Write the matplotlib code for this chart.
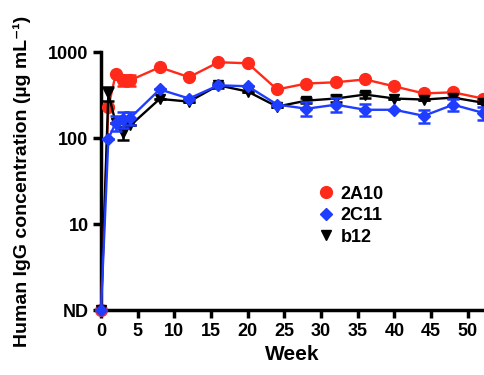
import matplotlib
matplotlib.use("Agg")
import matplotlib.pyplot as plt
from matplotlib.lines import Line2D

plt.rcParams['font.family'] = ['Liberation Sans', 'DejaVu Sans']
plt.rcParams['font.weight'] = 'bold'

# data (ND plotted at 1)
weeks = [0, 1, 2, 3, 4, 8, 12, 16, 20, 24, 28, 32, 36, 40, 44, 48, 52]
a2a10 = [1, 230, 550, 470, 470, 665, 510, 760, 740, 367, 430, 445, 480, 398, 330, 340, 288]
a2a10_err = [0, 0, 0, 70, 70, 0, 0, 0, 0, 0, 0, 0, 0, 0, 0, 0, 0]
c2c11 = [1, 98, 150, 165, 172, 367, 288, 410, 400, 245, 219, 244, 213, 213, 181, 244, 197]
c2c11_err = [0, 0, 30, 35, 30, 0, 0, 0, 0, 0, 40, 45, 35, 0, 30, 40, 35]
b12 = [1, 330, 150, 115, 140, 285, 265, 410, 347, 232, 272, 288, 320, 288, 280, 295, 258]
b12_err = [0, 60, 0, 20, 0, 0, 0, 25, 0, 0, 20, 25, 25, 0, 0, 0, 0]

ytick_vals = [1, 10, 100, 1000]
ytick_labels = ["ND", "10", "100", "1000"]
xtick_vals = [0, 5, 10, 15, 20, 25, 30, 35, 40, 45, 50]

red = "#FF2A1A"
blue = "#1F3DFF"

fig = plt.figure(figsize=(4.84, 3.75), dpi=100)
ax = fig.add_axes([0.2087, 0.1733, 0.7913, 0.688])

common = dict(lw=1.7, capsize=4, elinewidth=1.8, capthick=1.8, clip_on=False)
ax.errorbar(weeks, a2a10, yerr=a2a10_err, color=red, marker='o', ms=8.5,
            zorder=3, **common)
ax.errorbar(weeks, b12, yerr=b12_err, color='black', marker='v', ms=7.5,
            zorder=4, **common)
ax.errorbar(weeks, c2c11, yerr=c2c11_err, color=blue, marker='D', ms=6,
            zorder=5, **common)

ax.set_yscale('log')
ax.set_ylim(1, 1000)
ax.set_xlim(0, 52.2)
ax.set_yticks(ytick_vals)
ax.set_yticklabels(ytick_labels)
ax.minorticks_off()
ax.set_xticks(xtick_vals)

for s in ['top', 'right']:
    ax.spines[s].set_visible(False)
for s in ['left', 'bottom']:
    ax.spines[s].set_linewidth(2.5)
ax.tick_params(width=2.5, length=6, labelsize=13, pad=3)
for lab in ax.get_xticklabels() + ax.get_yticklabels():
    lab.set_fontweight('bold')

ax.set_xlabel("Week", fontsize=15, fontweight='bold', labelpad=4)
ax.set_ylabel("Human IgG concentration (\u00b5g mL\u207b\u00b9)", fontsize=14,
              fontweight='bold', labelpad=12)

handles = [
    Line2D([], [], ls='none', marker='o', ms=8.5, color=red, label="2A10"),
    Line2D([], [], ls='none', marker='D', ms=6, color=blue, label="2C11"),
    Line2D([], [], ls='none', marker='v', ms=7.5, color='black', label="b12"),
]
ax.legend(handles=handles, loc='upper left', bbox_to_anchor=(0.527, 0.545),
          frameon=False, handlelength=0.8, handletextpad=0.4,
          labelspacing=0.25, prop={'weight': 'bold', 'size': 13})

fig.savefig("out.png", dpi=100)
